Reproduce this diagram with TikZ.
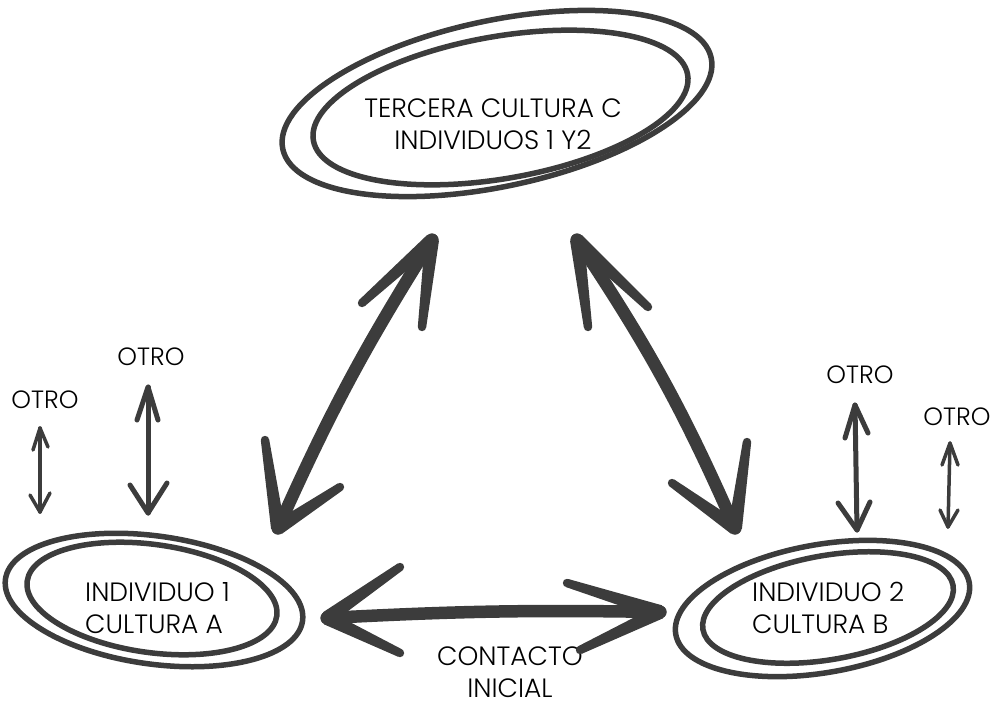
\documentclass[tikz,border=0pt]{standalone}
\usepackage{fontspec}
\setmainfont{Poppins}[UprightFont={* Light}]
\usetikzlibrary{calc}
\definecolor{ink}{HTML}{3C3C3C}
% tapered barb from tip #1 to end #2
\newcommand\taperbarb[2]{%
  \fill[ink] ($(#1)!7pt!90:(#2)$) -- ($(#2)!4.2pt!-90:(#1)$) -- ($(#2)!4.2pt!90:(#1)$) -- ($(#1)!7pt!-90:(#2)$) -- cycle;
  \fill[ink] (#2) circle[radius=4.2pt];
  \fill[ink] (#1) circle[radius=6.5pt];}
\newcommand\headpair[3]{\taperbarb{#1}{#2}\taperbarb{#1}{#3}}
\begin{document}
\begin{tikzpicture}[x=1pt,y=-1pt,
  ring/.style={draw=ink, line width=5.5pt},
  lbl/.style={font=\fontsize{26.5}{32}\selectfont, text=black, inner sep=0pt},
  otro/.style={font=\fontsize{25}{28}\selectfont, text=black, inner sep=0pt, anchor=base},
  shaft/.style={draw=ink, line width=12.5pt, line cap=round},
  tshaft/.style={draw=ink, line width=5pt, line cap=round},
  tbarb/.style={draw=ink, line width=5pt, line cap=round, line join=round},
  sshaft/.style={draw=ink, line width=3.5pt, line cap=round},
  sbarb/.style={draw=ink, line width=3.5pt, line cap=round, line join=round}]
\useasboundingbox (0,0) rectangle (995,707);

% ---- top ellipse
\draw[ring, rotate around={12:(497,103.5)}] (497,103.5) ellipse [x radius=219, y radius=83];
\draw[ring, rotate around={10:(500.5,107.5)}] (500.5,107.5) ellipse [x radius=190, y radius=71];
\node[lbl, align=center] (C) at (493,124) {TERCERA CULTURA C\\INDIVIDUOS 1 Y2};

% ---- left ellipse
\draw[ring, rotate around={-8:(154,600)}] (154,600) ellipse [x radius=150, y radius=64];
\draw[ring, rotate around={-8:(152,598.5)}] (152,598.5) ellipse [x radius=126, y radius=54];
\node[lbl, align=left, anchor=west] (A) at (85,608) {INDIVIDUO 1\\CULTURA A};

% ---- right ellipse
\draw[ring, rotate around={10:(822.5,608.5)}] (822.5,608.5) ellipse [x radius=149, y radius=64];
\draw[ring, rotate around={10:(828,607.5)}] (828,607.5) ellipse [x radius=127, y radius=52];
\node[lbl, align=left, anchor=west] (B) at (752,608) {INDIVIDUO 2\\CULTURA B};

% ---- contacto
\node[lbl, align=center] (K) at (510,672) {CONTACTO\\INICIAL};

% ---- thick arrows
\coordinate (L1) at (432,240); \coordinate (L2) at (278,528);
\coordinate (L1a) at (362,303); \coordinate (L1b) at (422,327);
\coordinate (L2a) at (265,440); \coordinate (L2b) at (340,487);
\draw[shaft] (L1) to[bend right=4] (L2);
\headpair{L1}{L1a}{L1b}
\headpair{L2}{L2a}{L2b}

\coordinate (R1) at (577,240); \coordinate (R2) at (735,528);
\coordinate (R1a) at (648,307); \coordinate (R1b) at (588,327);
\coordinate (R2a) at (747,442); \coordinate (R2b) at (672,483);
\draw[shaft] (R1) to[bend left=5] (R2);
\headpair{R1}{R1a}{R1b}
\headpair{R2}{R2a}{R2b}

\coordinate (H1) at (327,618); \coordinate (H2) at (660,612);
\coordinate (H1a) at (400,567); \coordinate (H1b) at (400,653);
\coordinate (H2a) at (567,583); \coordinate (H2b) at (580,650);
\draw[shaft] (H1) to[bend left=2] (H2);
\headpair{H1}{H1a}{H1b}
\headpair{H2}{H2a}{H2b}

% ---- OTRO labels and thin arrows
\node[otro] (o1) at (45,408) {OTRO};
\coordinate (o1a) at (40,428); \coordinate (o1b) at (40,512);
\draw[sshaft] (o1a) -- (o1b);
\draw[sbarb] (33,450) -- (o1a) -- (48,447);
\draw[sbarb] (30,495) -- (o1b) -- (50,493);

\node[otro] (o2) at (151,365) {OTRO};
\coordinate (o2a) at (148,387); \coordinate (o2b) at (148,513);
\draw[tshaft] (o2a) -- (o2b);
\draw[tbarb] (137,420) -- (o2a) -- (158,420);
\draw[tbarb] (130,485) -- (o2b) -- (167,483);

\node[otro] (o3) at (860,383) {OTRO};
\coordinate (o3a) at (855,405); \coordinate (o3b) at (857,530);
\draw[tshaft] (o3a) -- (o3b);
\draw[tbarb] (845,438) -- (o3a) -- (868,433);
\draw[tbarb] (838,503) -- (o3b) -- (870,502);

\node[otro] (o4) at (957,425) {OTRO};
\coordinate (o4a) at (950,443); \coordinate (o4b) at (948,527);
\draw[sshaft] (o4a) -- (o4b);
\draw[sbarb] (942,465) -- (o4a) -- (958,465);
\draw[sbarb] (940,510) -- (o4b) -- (958,510);
\end{tikzpicture}
\end{document}
